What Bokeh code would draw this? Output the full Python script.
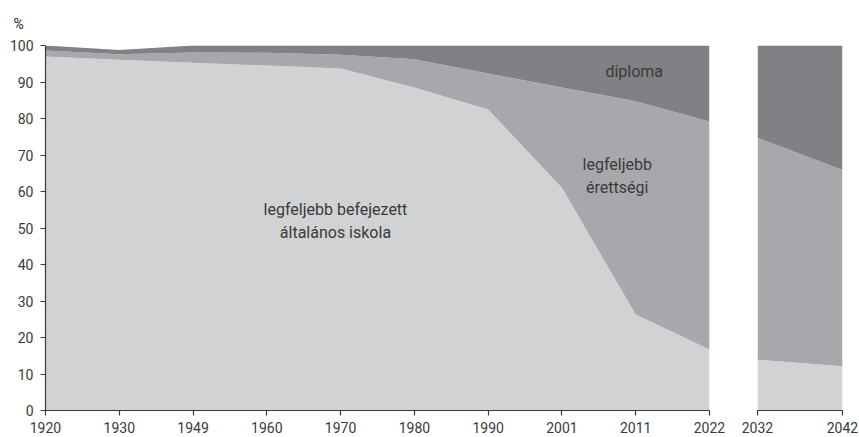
from bokeh.plotting import figure
from bokeh.layouts import row
from bokeh.models import ColumnDataSource, Range1d, FixedTicker
from bokeh.core.properties import value
from bokeh.embed import file_html
from bokeh.resources import INLINE

# ---- data (percent of population by highest education) ----
years_hist = ["1920", "1930", "1949", "1960", "1970", "1980", "1990", "2001", "2011", "2022"]
years_proj = ["2032", "2042"]
altalanos = [97.0, 96.1, 95.3, 94.5, 93.7, 88.5, 82.5, 61.0, 26.3, 16.7]
erettsegi = [1.6, 1.5, 2.8, 3.5, 3.8, 7.7, 9.8, 27.5, 58.4, 62.5]
diploma = [1.4, 1.2, 1.9, 2.0, 2.5, 3.8, 7.7, 11.5, 15.3, 20.8]
altalanos_proj = [13.9, 12.1]
erettsegi_proj = [60.8, 53.8]
diploma_proj = [25.3, 34.1]
y_ticks = [0, 10, 20, 30, 40, 50, 60, 70, 80, 90, 100]
series_names = ["altalanos", "erettsegi", "diploma"]
series_colors = ["#d1d2d4", "#a7a8ab", "#808184"]

FONT = "Roboto"
TXT = "#3a3a3a"

def make_source(years, a, e, d, offset):
    return ColumnDataSource(dict(x=[i + offset for i in range(len(years))],
                                 altalanos=a, erettsegi=e, diploma=d))

src_hist = make_source(years_hist, altalanos, erettsegi, diploma, 0)
src_proj = make_source(years_proj, altalanos_proj, erettsegi_proj, diploma_proj, len(years_hist))

def style_axis(ax):
    ax.axis_line_color = "#3a3a3a"
    ax.axis_line_width = 1.2
    ax.major_tick_line_color = "#3a3a3a"
    ax.major_tick_line_width = 1.2
    ax.major_tick_in = 0
    ax.major_tick_out = 5
    ax.minor_tick_line_color = None
    ax.major_label_text_font = FONT
    ax.major_label_text_font_size = "14px"
    ax.major_label_text_color = TXT

# ---- left (historical) panel ----
p = figure(width=725, height=437, output_backend="svg", toolbar_location=None,
           x_range=Range1d(0, len(years_hist) - 1), y_range=Range1d(0, 100),
           min_border_left=45, min_border_right=16, min_border_top=45, min_border_bottom=27)
p.varea_stack(stackers=series_names, x="x", color=series_colors, source=src_hist)
p.xgrid.visible = False
p.ygrid.visible = False
p.outline_line_color = None
p.background_fill_color = "white"

p.xaxis.ticker = FixedTicker(ticks=list(range(len(years_hist))))
p.xaxis.major_label_overrides = {i: y for i, y in enumerate(years_hist)}
p.yaxis.ticker = FixedTicker(ticks=y_ticks)
style_axis(p.xaxis[0])
style_axis(p.yaxis[0])
p.xaxis.major_label_standoff = 6
p.yaxis.major_label_standoff = 7

p.title.text = "%"
p.title.align = "left"
p.title.offset = -32
p.title.standoff = 27
p.title.text_font = FONT
p.title.text_font_size = "14px"
p.title.text_line_height = 0.8
p.title.text_font_style = "normal"
p.title.text_color = "#222222"

label_x = [3.93, 3.93, 7.75, 7.75, 7.98]
label_y = [55.0, 48.7, 67.5, 61.2, 93.0]
label_txt = ["legfeljebb befejezett", "általános iskola", "legfeljebb", "érettségi", "diploma"]
p.text(x=label_x, y=label_y, text=label_txt, text_align="center", text_baseline="middle",
       text_font=value(FONT), text_font_size="16px", text_color=TXT)

# ---- right (projection) panel ----
p2 = figure(width=134, height=437, output_backend="svg", toolbar_location=None,
            x_range=Range1d(len(years_hist), len(years_hist) + 1), y_range=Range1d(0, 100),
            min_border_left=32, min_border_right=17, min_border_top=45, min_border_bottom=27)
p2.varea_stack(stackers=series_names, x="x", color=series_colors, source=src_proj)
p2.xgrid.visible = False
p2.ygrid.visible = False
p2.outline_line_color = None
p2.yaxis.visible = False
p2.xaxis.ticker = FixedTicker(ticks=[len(years_hist) + i for i in range(len(years_proj))])
p2.xaxis.major_label_overrides = {len(years_hist) + i: y for i, y in enumerate(years_proj)}
style_axis(p2.xaxis[0])
p2.xaxis.major_label_standoff = 6

layout = row(p, p2, spacing=0)
open("out.html", "w").write(file_html(layout, INLINE))
